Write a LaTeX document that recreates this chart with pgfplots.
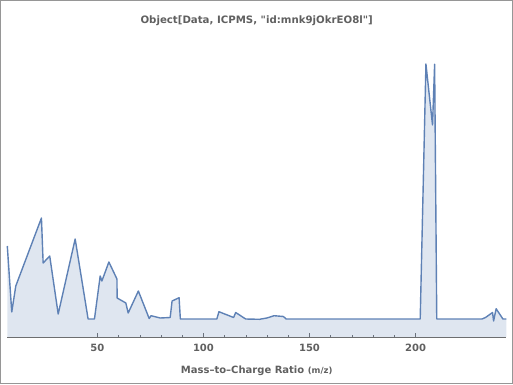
\documentclass[border=0pt]{standalone}
\usepackage{pgfplots}
\pgfplotsset{compat=1.18}
\usepackage{fontspec}
\setmainfont{DejaVu Sans}[Ligatures=TeXOff]
\definecolor{lineblue}{RGB}{94,129,181}
\definecolor{txtgray}{RGB}{96,96,96}
\definecolor{axgray}{RGB}{110,110,110}
\definecolor{bordergray}{RGB}{150,150,150}
\begin{document}
\begin{tikzpicture}[x=1pt,y=1pt]
\useasboundingbox (0,0) rectangle (513,384);
\draw[bordergray, line width=1pt] (0.5,0.5) rectangle (512.5,383.5);
\node[anchor=base, font=\bfseries\fontsize{10.2}{12}\selectfont, text=txtgray, inner sep=0pt] at (256.7,361) {Object[Data, ICPMS, "id:mnk9jOkrEO8l"]};
\node[anchor=base, font=\bfseries\fontsize{10}{12}\selectfont, text=txtgray, inner sep=0pt] at (256.7,10.5) {Mass–to–Charge Ratio {\fontsize{8.5}{10}\selectfont(m/z)}};
\begin{axis}[
  at={(7.3pt,47pt)}, anchor=south west,
  scale only axis, width=499pt, height=307pt,
  xmin=7.5, xmax=242.8, ymin=-18, ymax=289,
  axis y line=none, axis x line=bottom,
  axis line style={-, axgray, line width=0.8pt},
  xtick={50,100,150,200}, minor x tick num=4,
  tick align=inside,
  major tick length=4pt, minor tick length=2.5pt,
  every tick/.style={axgray, line width=0.6pt},
  /pgf/number format/assume math mode=true,
  xticklabel style={font=\bfseries\fontsize{10}{12}\selectfont, text=txtgray, anchor=base, yshift=-14.7pt, inner sep=0pt},
  clip=false,
]
\addplot[fill=lineblue, fill opacity=0.2, draw=none] coordinates {
(7.5,-18) (7.5,73) (9.6,7) (11.5,33) (23.6,101) (24.4,56) (27.5,63) (31.5,5) (39.5,80) (45.6,0) (48.6,0) (51.3,43) (52.1,38) (55.4,57) (59.2,40) (59.3,21) (63.4,16) (64.5,6) (69.3,28) (74.4,0.5) (75.3,3.3) (79.6,1) (84.3,1.5) (85.2,18) (88.5,21.3) (89.1,0) (106.3,0) (107.3,7.3) (114.2,1.5) (115.2,6.5) (119.9,0) (126.4,-0.3) (129.9,1) (133.3,3.3) (137.7,2.5) (139,0) (202.2,0) (204.9,255) (208,194) (209,254.7) (210,0) (231.3,0) (233,1.5) (236.3,6.5) (236.8,-2) (238,10.3) (241.2,0) (242.8,0) (242.8,-18)
};
\addplot[lineblue, line width=1.4pt, line join=round] coordinates {
(7.5,73) (9.6,7) (11.5,33) (23.6,101) (24.4,56) (27.5,63) (31.5,5) (39.5,80) (45.6,0) (48.6,0) (51.3,43) (52.1,38) (55.4,57) (59.2,40) (59.3,21) (63.4,16) (64.5,6) (69.3,28) (74.4,0.5) (75.3,3.3) (79.6,1) (84.3,1.5) (85.2,18) (88.5,21.3) (89.1,0) (106.3,0) (107.3,7.3) (114.2,1.5) (115.2,6.5) (119.9,0) (126.4,-0.3) (129.9,1) (133.3,3.3) (137.7,2.5) (139,0) (202.2,0) (204.9,255) (208,194) (209,254.7) (210,0) (231.3,0) (233,1.5) (236.3,6.5) (236.8,-2) (238,10.3) (241.2,0) (242.8,0)
};
\end{axis}
\end{tikzpicture}
\end{document}
